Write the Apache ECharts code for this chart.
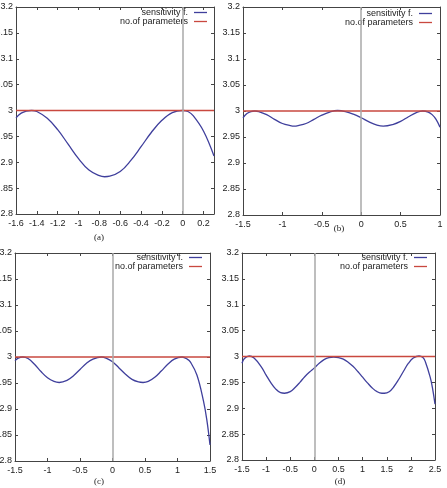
<!DOCTYPE html>
<html>
<head>
<meta charset="utf-8">
<script src="https://cdn.jsdelivr.net/npm/echarts@6/dist/echarts.min.js"></script>
<style>
  html, body { margin: 0; padding: 0; background: #fff; }
  #chart { width: 447px; height: 488px; }
</style>
</head>
<body>
<div id="chart"></div>
<script>
// panel (a)
var xA = [-1.6, -1.55, -1.5, -1.45, -1.4, -1.3, -1.2, -1.1, -1.0, -0.9, -0.8, -0.75, -0.7, -0.6, -0.5, -0.4, -0.3, -0.2, -0.1, 0, 0.05, 0.1, 0.2, 0.3];
var yA = [2.986, 2.995, 2.999, 3.0, 2.998, 2.985, 2.963, 2.935, 2.907, 2.885, 2.874, 2.872, 2.873, 2.882, 2.903, 2.930, 2.958, 2.981, 2.996, 3.0, 2.998, 2.99, 2.96, 2.912];
// panel (b)
var xB = [-1.5, -1.45, -1.4, -1.35, -1.3, -1.2, -1.1, -1.0, -0.9, -0.85, -0.8, -0.7, -0.6, -0.5, -0.4, -0.3, -0.2, -0.1, 0, 0.1, 0.2, 0.28, 0.4, 0.5, 0.6, 0.7, 0.78, 0.85, 0.9, 0.95, 1.0];
var yB = [2.987, 2.995, 2.999, 3.0, 2.999, 2.993, 2.984, 2.976, 2.972, 2.971, 2.972, 2.976, 2.984, 2.992, 2.998, 3.001, 2.999, 2.994, 2.987, 2.979, 2.973, 2.971, 2.974, 2.980, 2.989, 2.997, 3.0, 2.998, 2.993, 2.984, 2.969];
// panel (c)
var xC = [-1.5, -1.45, -1.38, -1.3, -1.2, -1.1, -1.0, -0.9, -0.82, -0.7, -0.6, -0.5, -0.4, -0.3, -0.17, -0.1, 0, 0.1, 0.2, 0.3, 0.4, 0.47, 0.55, 0.65, 0.75, 0.85, 0.95, 1.07, 1.15, 1.2, 1.3, 1.4, 1.45, 1.5];
var yC = [2.993, 2.998, 3.0, 2.997, 2.986, 2.972, 2.960, 2.953, 2.951, 2.955, 2.964, 2.976, 2.988, 2.996, 3.0, 2.998, 2.991, 2.979, 2.967, 2.957, 2.952, 2.951, 2.953, 2.961, 2.973, 2.986, 2.996, 3.0, 2.996, 2.990, 2.965, 2.915, 2.880, 2.831];
// panel (d)
var xD = [-1.5, -1.45, -1.35, -1.25, -1.1, -1.0, -0.9, -0.8, -0.7, -0.62, -0.5, -0.4, -0.3, -0.2, -0.1, 0, 0.1, 0.2, 0.3, 0.4, 0.5, 0.6, 0.7, 0.8, 0.9, 1.0, 1.1, 1.2, 1.3, 1.4, 1.45, 1.55, 1.65, 1.75, 1.85, 1.95, 2.05, 2.17, 2.25, 2.3, 2.4, 2.45, 2.5];
var yD = [2.987, 2.996, 3.001, 2.997, 2.980, 2.964, 2.949, 2.937, 2.930, 2.929, 2.932, 2.940, 2.950, 2.961, 2.970, 2.978, 2.987, 2.994, 2.998, 2.999, 2.998, 2.995, 2.989, 2.981, 2.971, 2.960, 2.949, 2.939, 2.932, 2.929, 2.929, 2.932, 2.942, 2.956, 2.972, 2.987, 2.997, 3.001, 2.998, 2.990, 2.960, 2.938, 2.908];

var paramLevel = 3;
var yMin = 2.8, yMax = 3.2, yStep = 0.05;
var legendNames = ['sensitivity f.', 'no.of parameters'];
var captions = ['(a)', '(b)', '(c)', '(d)'];

var panels = [
  { xs: xA, ys: yA, min: -1.6, max: 0.3, step: 0.2, grid: { left: 16, right: 233, top: 7, bottom: 274 }, legend: { right: 240, top: 8 }, cap: [99, 238] },
  { xs: xB, ys: yB, min: -1.5, max: 1, step: 0.5, grid: { left: 243, right: 7, top: 7, bottom: 273 }, legend: { right: 15, top: 9 }, cap: [339, 229] },
  { xs: xC, ys: yC, min: -1.5, max: 1.5, step: 0.5, grid: { left: 15, right: 237, top: 253, bottom: 27 }, legend: { right: 245, top: 253 }, cap: [99, 482] },
  { xs: xD, ys: yD, min: -1.5, max: 2.5, step: 0.5, grid: { left: 242, right: 12, top: 253, bottom: 28 }, legend: { right: 20, top: 253 }, cap: [340, 482] }
];

var font = 'Liberation Sans, Arial, sans-serif';
var axisCol = '#444';

var option = {
  animation: false,
  backgroundColor: '#fff',
  grid: [], xAxis: [], yAxis: [], series: [], legend: [], graphic: []
};

panels.forEach(function (p, i) {
  var g = p.grid;
  g.containLabel = false;
  g.outerBoundsMode = 'none';
  option.grid.push(g);
  var tick = { show: true, inside: true, length: 3, lineStyle: { color: axisCol } };
  var line = { show: true, onZero: false, lineStyle: { color: axisCol, width: 1 } };
  // bottom / top
  option.xAxis.push({
    type: 'value', gridIndex: i, min: p.min, max: p.max, interval: p.step,
    position: 'bottom', axisLine: line, axisTick: tick, splitLine: { show: false },
    axisLabel: { fontFamily: font, fontSize: 9, color: '#222', margin: 5, showMaxLabel: i !== 0 }
  });
  option.xAxis.push({
    type: 'value', gridIndex: i, min: p.min, max: p.max, interval: p.step,
    position: 'top', axisLine: line, axisTick: tick, splitLine: { show: false },
    axisLabel: { show: false }
  });
  // left / right
  option.yAxis.push({
    type: 'value', gridIndex: i, min: yMin, max: yMax, interval: yStep,
    position: 'left', axisLine: line, axisTick: tick, splitLine: { show: false },
    axisLabel: { fontFamily: font, fontSize: 9, color: '#222', margin: 3 }
  });
  option.yAxis.push({
    type: 'value', gridIndex: i, min: yMin, max: yMax, interval: yStep,
    position: 'right', axisLine: line, axisTick: tick, splitLine: { show: false },
    axisLabel: { show: false }
  });

  option.series.push({
    name: legendNames[0], type: 'line', xAxisIndex: i * 2, yAxisIndex: i * 2,
    data: p.xs.map(function (x, k) { return [x, p.ys[k]]; }),
    smooth: 0.4, symbol: 'none', lineStyle: { color: '#3f3f9c', width: 1.3 },
    itemStyle: { color: '#3f3f9c' },
    markLine: {
      silent: true, symbol: 'none', label: { show: false },
      lineStyle: { color: '#a8a8a8', type: 'solid', width: 1.5 },
      data: [{ xAxis: 0 }]
    }
  });
  option.series.push({
    name: legendNames[1], type: 'line', xAxisIndex: i * 2, yAxisIndex: i * 2,
    data: [[p.min, paramLevel], [p.max, paramLevel]],
    symbol: 'none', lineStyle: { color: '#c9483f', width: 1.3 },
    itemStyle: { color: '#c9483f' }
  });

  option.legend.push({
    data: legendNames, orient: 'vertical', align: 'right', icon: 'rect',
    right: p.legend.right, top: p.legend.top, padding: 0, itemGap: 0,
    itemWidth: 13, itemHeight: 1.3, selectedMode: false,
    textStyle: { fontFamily: font, fontSize: 9, color: '#222', lineHeight: 8, padding: [0, 1, 0, 0] }
  });

  option.graphic.push({
    type: 'text', x: p.cap[0], y: p.cap[1],
    style: { text: captions[i], font: '9px "Liberation Serif", serif', fill: '#222', textAlign: 'center', textVerticalAlign: 'middle' }
  });
});

var chart = echarts.init(document.getElementById('chart'));
chart.setOption(option);
</script>
</body>
</html>
